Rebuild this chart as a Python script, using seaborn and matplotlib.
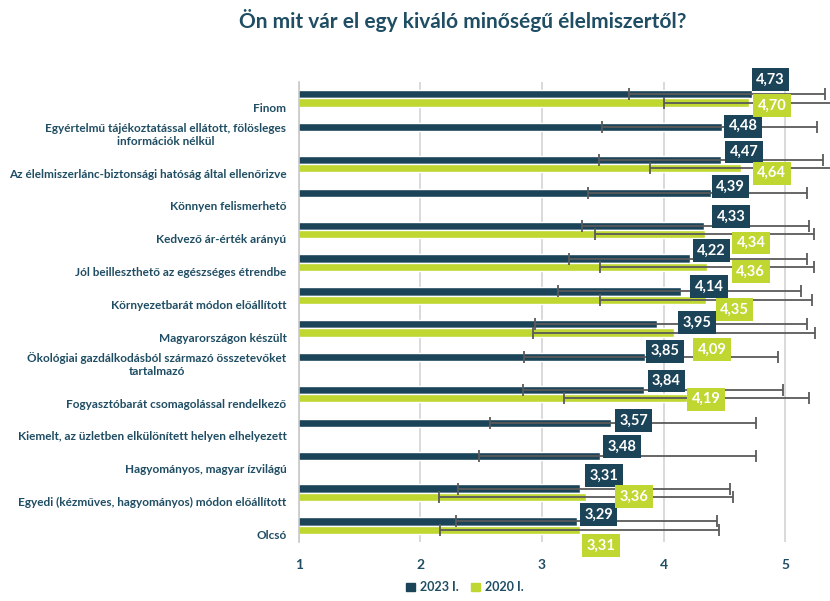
import numpy as np
import pandas as pd
import matplotlib
matplotlib.use("Agg")
import matplotlib.pyplot as plt
import seaborn as sns

# ---------------- DATA ----------------
categories = [
    "Finom",
    "Egyértelmű tájékoztatással ellátott, fölösleges\ninformációk nélkül",
    "Az élelmiszerlánc-biztonsági hatóság által ellenőrizve",
    "Könnyen felismerhető",
    "Kedvező ár-érték arányú",
    "Jól beilleszthető az egészséges étrendbe",
    "Környezetbarát módon előállított",
    "Magyarországon készült",
    "Ökológiai gazdálkodásból származó összetevőket\ntartalmazó",
    "Fogyasztóbarát csomagolással rendelkező",
    "Kiemelt, az üzletben elkülönített helyen elhelyezett",
    "Hagyományos, magyar ízvilágú",
    "Egyedi (kézműves, hagyományos) módon előállított",
    "Olcsó",
]
years = ["2023 I.", "2020 I."]
values_2023 = [4.73, 4.48, 4.47, 4.39, 4.33, 4.22, 4.14, 3.95, 3.85, 3.84, 3.57, 3.48, 3.31, 3.29]
values_2020 = [4.70, np.nan, 4.64, np.nan, 4.34, 4.36, 4.35, 4.09, np.nan, 4.19, np.nan, np.nan, 3.36, 3.31]
err_minus_2023 = [1.01, 0.99, 1.00, 1.01, 1.00, 1.00, 1.01, 1.01, 1.00, 1.00, 1.00, 1.00, 1.00, 1.00]
err_plus_2023 = [0.60, 0.78, 0.84, 0.79, 0.87, 0.96, 0.99, 1.23, 1.09, 1.14, 1.19, 1.28, 1.24, 1.15]
err_2020 = [0.70, np.nan, 0.75, np.nan, 0.90, 0.88, 0.87, 1.16, np.nan, 1.01, np.nan, np.nan, 1.21, 1.15]

# label box shifts in pixels (dx right of bar end, dy up from bar centre)
shift_2023 = [(0, 15), (3, 1), (5, 8), (1, 6), (9, 9), (3, 8), (10, 5),
              (21, 2), (1, 6), (4, 9), (4, 2), (3, 9), (6, 13), (3, 7)]
shift_2020 = [(5, -3), None, (12, -5), None, (28, -9), (25, -5), (10, -10),
              (19, -17), None, (1, -1), None, None, (30, 0), (3, -16)]

DARK = "#1b4459"
GREEN = "#bfd730"
TEXT = "#1f4d63"
ERR = "#5a5a5a"

sns.set_style("white")
plt.rcParams["font.family"] = ["Lato", "DejaVu Sans"]
plt.rcParams["font.weight"] = "bold"

rows = []
for cat, v23, v20 in zip(categories, values_2023, values_2020):
    rows.append({"kategoria": cat, "ev": years[0], "ertek": v23})
    rows.append({"kategoria": cat, "ev": years[1], "ertek": v20})
df = pd.DataFrame(rows).dropna()

fig = plt.figure(figsize=(8.3, 6.01), dpi=100)
ax = fig.add_axes([0.3602, 0.0982, 0.6398, 0.7654])

sns.barplot(data=df, x="ertek", y="kategoria", hue="ev", hue_order=years,
            order=categories, palette=[DARK, GREEN], orient="h", width=0.5,
            errorbar=None, saturation=1, ax=ax)

ax.set_xticks([1, 2, 3, 4, 5])
ax.xaxis.grid(True, color="#d9d9d9", linewidth=1.4)
ax.set_axisbelow(True)
for s in ["top", "right", "bottom"]:
    ax.spines[s].set_visible(False)
ax.spines["left"].set_color("#c8c8c8")
ax.spines["left"].set_linewidth(1.2)
ax.set_xlabel("")
ax.set_ylabel("")

ax.tick_params(axis="x", length=0, pad=12, labelsize=10, labelcolor=TEXT)
ax.tick_params(axis="y", length=0, pad=9, labelsize=8.5, labelcolor=TEXT)
ax.set_yticks(np.arange(len(categories)) + 0.47)
ax.set_yticklabels(categories)
for lab in ax.get_yticklabels():
    lab.set_va("bottom")
    lab.set_multialignment("center")

# ---------------- ERROR BARS AND LABELS ----------------
series = [
    (values_2023, err_minus_2023, err_plus_2023, shift_2023, DARK),
    (values_2020, err_2020, err_2020, shift_2020, GREEN),
]
for cont, (vals, lo, hi, shifts, col) in zip(ax.containers, series):
    for bar in cont:
        yc = bar.get_y() + bar.get_height() / 2
        i = int(round(yc))
        v = vals[i]
        ax.errorbar(v, yc, xerr=[[lo[i]], [hi[i]]], fmt="none", ecolor=ERR,
                    elinewidth=1.3, capsize=4.5, capthick=1.3)
        dx, dy = shifts[i]
        ax.annotate(f"{v:.2f}".replace(".", ","), (v, yc),
                    xytext=(dx + 4, dy), textcoords="offset pixels",
                    ha="left", va="center", color="white", fontsize=10.5,
                    fontweight="bold", annotation_clip=False, zorder=5,
                    bbox=dict(boxstyle="square,pad=0.3", fc=col, ec="none"))

ax.set_xlim(1, 5.37)
ax.set_ylim(len(categories) - 0.5, -0.5)

ax.get_legend().remove()
handles = [plt.Rectangle((0, 0), 1, 1, color=DARK), plt.Rectangle((0, 0), 1, 1, color=GREEN)]
fig.legend(handles, years, loc="lower center", bbox_to_anchor=(0.56, -0.006), ncol=2,
           frameon=False, handlelength=0.7, handleheight=0.7, handletextpad=0.4,
           columnspacing=1.0, prop={"size": 9, "weight": "bold"}, labelcolor=TEXT)

fig.text(0.558, 0.966, "Ön mit vár el egy kiváló minőségű élelmiszertől?",
         ha="center", va="center", fontsize=15, fontweight="bold", color=TEXT)

plt.savefig("out.png", dpi=100)
plt.close()
